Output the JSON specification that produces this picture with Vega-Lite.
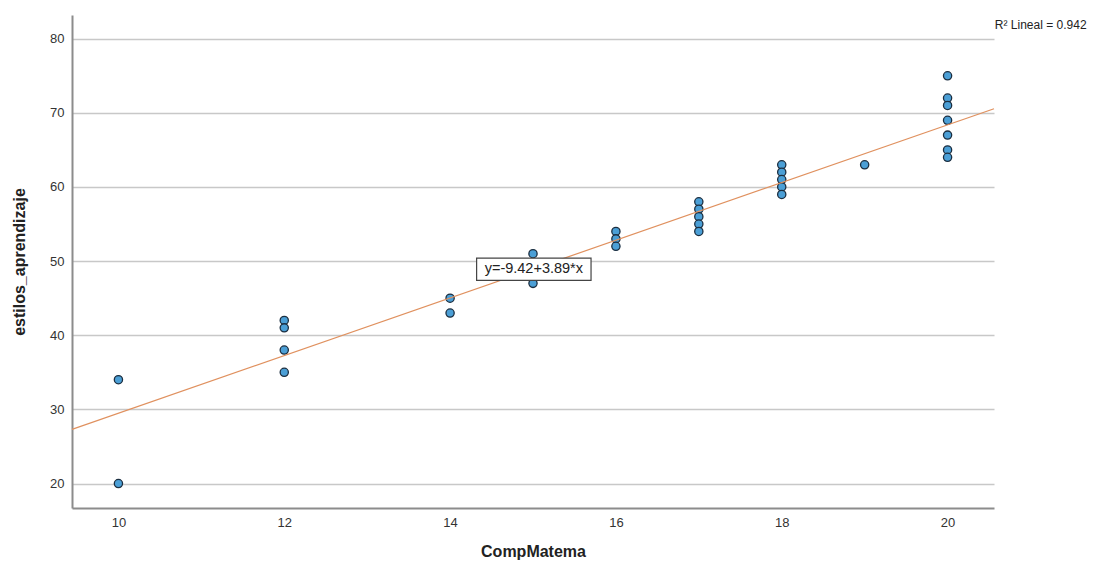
{
  "$schema": "https://vega.github.io/schema/vega-lite/v6.json",
  "autosize": {"type": "none"},
  "width": 922,
  "height": 493,
  "padding": {"left": 72, "top": 15, "right": 119, "bottom": 56},
  "background": "white",
  "config": {
    "view": {"stroke": null},
    "font": "Liberation Sans"
  },
  "datasets": {
    "pts": [
      {"CompMatema": 10, "estilos_aprendizaje": 34},
      {"CompMatema": 10, "estilos_aprendizaje": 20},
      {"CompMatema": 12, "estilos_aprendizaje": 42},
      {"CompMatema": 12, "estilos_aprendizaje": 41},
      {"CompMatema": 12, "estilos_aprendizaje": 38},
      {"CompMatema": 12, "estilos_aprendizaje": 35},
      {"CompMatema": 14, "estilos_aprendizaje": 45},
      {"CompMatema": 14, "estilos_aprendizaje": 43},
      {"CompMatema": 15, "estilos_aprendizaje": 51},
      {"CompMatema": 15, "estilos_aprendizaje": 49},
      {"CompMatema": 15, "estilos_aprendizaje": 47},
      {"CompMatema": 16, "estilos_aprendizaje": 54},
      {"CompMatema": 16, "estilos_aprendizaje": 53},
      {"CompMatema": 16, "estilos_aprendizaje": 52},
      {"CompMatema": 17, "estilos_aprendizaje": 58},
      {"CompMatema": 17, "estilos_aprendizaje": 57},
      {"CompMatema": 17, "estilos_aprendizaje": 56},
      {"CompMatema": 17, "estilos_aprendizaje": 55},
      {"CompMatema": 17, "estilos_aprendizaje": 54},
      {"CompMatema": 18, "estilos_aprendizaje": 63},
      {"CompMatema": 18, "estilos_aprendizaje": 62},
      {"CompMatema": 18, "estilos_aprendizaje": 61},
      {"CompMatema": 18, "estilos_aprendizaje": 60},
      {"CompMatema": 18, "estilos_aprendizaje": 59},
      {"CompMatema": 19, "estilos_aprendizaje": 63},
      {"CompMatema": 20, "estilos_aprendizaje": 75},
      {"CompMatema": 20, "estilos_aprendizaje": 72},
      {"CompMatema": 20, "estilos_aprendizaje": 71},
      {"CompMatema": 20, "estilos_aprendizaje": 69},
      {"CompMatema": 20, "estilos_aprendizaje": 67},
      {"CompMatema": 20, "estilos_aprendizaje": 65},
      {"CompMatema": 20, "estilos_aprendizaje": 64}
    ],
    "fit": [
      {"CompMatema": 9.44, "estilos_aprendizaje": 27.30},
      {"CompMatema": 20.56, "estilos_aprendizaje": 70.56}
    ],
    "eq": [
      {"x1": 14.32, "x2": 15.70, "y1": 47.4, "y2": 50.4, "xc": 15.01, "yc": 48.9, "label": "y=-9.42+3.89*x"}
    ],
    "r2": [
      {"x": 20.57, "y": 81.9, "label": "R² Lineal = 0.942"}
    ]
  },
  "layer": [
    {
      "data": {"name": "pts"},
      "mark": {"type": "point", "filled": true, "size": 68, "fill": "#4b9fd6", "stroke": "#1b2e40", "strokeWidth": 1.3, "opacity": 1, "shape": "circle"},
      "encoding": {
        "x": {
          "field": "CompMatema", "type": "quantitative",
          "scale": {"domain": [9.44, 20.56], "nice": false, "zero": false},
          "axis": {
            "values": [10, 12, 14, 16, 18, 20],
            "format": "d",
            "title": "CompMatema",
            "titleFontSize": 16, "titleFontWeight": "bold", "titleColor": "#222", "titlePadding": 14,
            "labelFontSize": 13, "labelColor": "#333", "labelPadding": 8,
            "ticks": false, "grid": false,
            "domainColor": "#8c8c8c", "domainWidth": 2
          }
        },
        "y": {
          "field": "estilos_aprendizaje", "type": "quantitative",
          "scale": {"domain": [16.7, 83.2], "nice": false, "zero": false},
          "axis": {
            "values": [20, 30, 40, 50, 60, 70, 80],
            "format": "d",
            "title": "estilos_aprendizaje",
            "titleFontSize": 16, "titleFontWeight": "bold", "titleColor": "#222", "titlePadding": 22,
            "labelFontSize": 13, "labelColor": "#333", "labelPadding": 8,
            "ticks": false, "grid": true, "gridColor": "#c8c8c8", "gridWidth": 1.3,
            "domainColor": "#8c8c8c", "domainWidth": 2
          }
        }
      }
    },
    {
      "data": {"name": "fit"},
      "mark": {"type": "line", "color": "#e0915f", "strokeWidth": 1.2},
      "encoding": {
        "x": {"field": "CompMatema", "type": "quantitative"},
        "y": {"field": "estilos_aprendizaje", "type": "quantitative"}
      }
    },
    {
      "data": {"name": "eq"},
      "mark": {"type": "rect", "fill": "white", "stroke": "#444", "strokeWidth": 1.2},
      "encoding": {
        "x": {"field": "x1", "type": "quantitative"},
        "x2": {"field": "x2"},
        "y": {"field": "y1", "type": "quantitative"},
        "y2": {"field": "y2"}
      }
    },
    {
      "data": {"name": "eq"},
      "mark": {"type": "text", "fontSize": 14.5, "color": "#222", "align": "center", "baseline": "middle"},
      "encoding": {
        "x": {"field": "xc", "type": "quantitative"},
        "y": {"field": "yc", "type": "quantitative"},
        "text": {"field": "label"}
      }
    },
    {
      "data": {"name": "r2"},
      "mark": {"type": "text", "fontSize": 12, "color": "#222", "align": "left", "baseline": "middle", "clip": false},
      "encoding": {
        "x": {"field": "x", "type": "quantitative"},
        "y": {"field": "y", "type": "quantitative"},
        "text": {"field": "label"}
      }
    }
  ]
}
